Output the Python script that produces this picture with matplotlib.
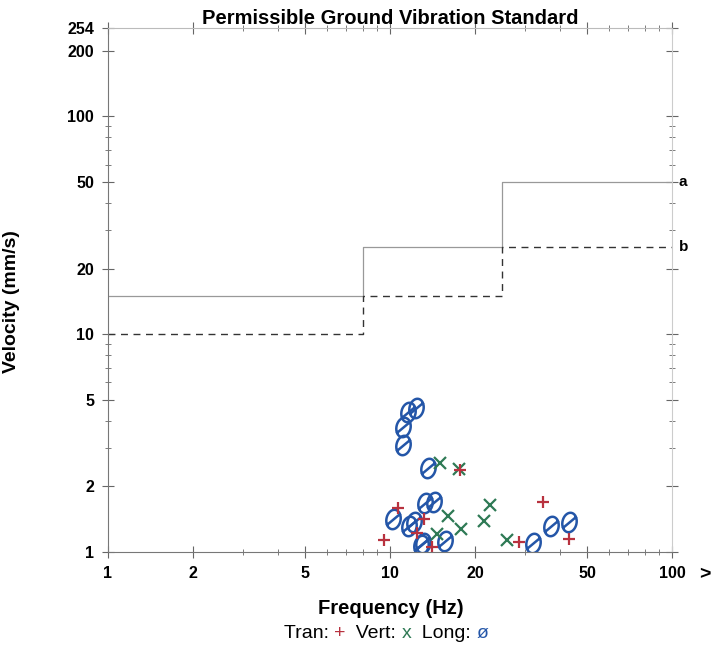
import numpy as np
import matplotlib
matplotlib.use("Agg")
import matplotlib.pyplot as plt
from matplotlib.ticker import FixedLocator, FixedFormatter, NullFormatter
from matplotlib.offsetbox import TextArea, HPacker, AnchoredOffsetbox
from matplotlib.path import Path

plt.rcParams['font.family'] = ['Liberation Sans', 'DejaVu Sans']

# standard limit lines (a solid, b dashed)
std_freq = [1, 8, 8, 25, 25, 100]
std_a = [15, 15, 25, 25, 50, 50]
std_b = [10, 10, 15, 15, 25, 25]

# measured peak particle velocities
tran_f = [10.7, 13.2, 12.5, 9.5, 14.05, 28.7, 34.8, 43.2, 17.7]
tran_v = [1.60, 1.41, 1.22, 1.14, 1.05, 1.11, 1.70, 1.15, 2.38]

vert_f = [15.0, 17.5, 22.6, 16.1, 21.6, 17.85, 14.7, 25.9]
vert_v = [2.56, 2.40, 1.65, 1.47, 1.39, 1.27, 1.21, 1.14]

long_f = [12.37, 11.61, 11.15, 11.15, 13.67, 13.31, 14.32, 10.27, 12.2, 11.71,
          13.13, 12.85, 15.67, 32.2, 37.1, 43.2]
long_v = [4.58, 4.39, 3.74, 3.10, 2.44, 1.67, 1.70, 1.41, 1.38, 1.31,
          1.10, 1.08, 1.12, 1.10, 1.32, 1.37]

x_ticks = [1, 2, 5, 10, 20, 50, 100]
y_ticks = [1, 2, 5, 10, 20, 50, 100, 200, 254]

red = '#b8323f'
green = '#2f7a55'
blue = '#2456a8'

# slashed oval marker, like a handwritten "Ø"
t = np.linspace(0, 2*np.pi, 40)
ex, ey = 0.36*np.cos(t), 0.5*np.sin(t)
ang = np.deg2rad(-12)
ox = ex*np.cos(ang) - ey*np.sin(ang)
oy = ex*np.sin(ang) + ey*np.cos(ang)
verts = list(zip(ox, oy)) + [(-0.36, -0.3), (0.36, 0.3)]
codes = [Path.MOVETO] + [Path.LINETO]*38 + [Path.CLOSEPOLY] + [Path.MOVETO, Path.LINETO]
slash_o = Path(verts, codes)

fig = plt.figure(figsize=(7.19, 6.52), dpi=100)
ax = fig.add_axes([108/719, 1-552/652, (672-108)/719, (552-28)/652])
ax.set_xscale('log')
ax.set_yscale('log')
ax.set_xlim(1, 100)
ax.set_ylim(1, 254)

ax.plot(std_freq, std_a, color='#999999', lw=0.9)
ax.plot(std_freq, std_b, color='#333333', lw=1.0, ls=(0, (5, 4)))
ax.text(1.012, 50, 'a', transform=ax.get_yaxis_transform(), fontsize=11,
        fontweight='bold', va='center', ha='left')
ax.text(1.012, 25, 'b', transform=ax.get_yaxis_transform(), fontsize=11,
        fontweight='bold', va='center', ha='left')

ax.plot(long_f, long_v, ls='none', marker=slash_o, ms=14, mew=1.8,
        mfc='none', mec=blue)
ax.plot(vert_f, vert_v, ls='none', marker='x', ms=8, mew=1.6, color=green)
ax.plot(tran_f, tran_v, ls='none', marker='+', ms=9, mew=1.6, color=red)

ax.xaxis.set_major_locator(FixedLocator(x_ticks))
ax.xaxis.set_major_formatter(FixedFormatter([str(t) for t in x_ticks]))
ax.yaxis.set_major_locator(FixedLocator(y_ticks))
ax.yaxis.set_major_formatter(FixedFormatter([str(t) for t in y_ticks]))
ax.xaxis.set_minor_formatter(NullFormatter())
ax.yaxis.set_minor_formatter(NullFormatter())

for sp in ax.spines.values():
    sp.set_linewidth(0.8)
    sp.set_color('#777777')
ax.spines['top'].set_color('#bbbbbb')
ax.spines['right'].set_color('#cccccc')

ax.tick_params(which='both', direction='inout', colors='#666666',
               top=True, right=True, labelcolor='black')
ax.tick_params(which='major', length=8, width=0.8, labelsize=11.5, pad=6)
ax.tick_params(which='minor', length=5, width=0.6)
for lab in ax.get_xticklabels() + ax.get_yticklabels():
    lab.set_fontweight('bold')

ax.set_title('Permissible Ground Vibration Standard', fontsize=14.5,
             fontweight='bold', pad=3)
ax.set_ylabel('Velocity (mm/s)', fontsize=14, fontweight='bold')
ax.yaxis.set_label_coords(-0.156, 0.477)
fig.text(391/719, 1-608/652, 'Frequency (Hz)', fontsize=14.5,
         fontweight='bold', ha='center', va='center')
fig.text(705/719, 1-575/652, '>', fontsize=14, fontweight='bold',
         ha='center', va='center')

parts = [TextArea('Tran: ', textprops=dict(fontsize=14)),
         TextArea('+', textprops=dict(fontsize=14, color=red)),
         TextArea('  Vert: ', textprops=dict(fontsize=14)),
         TextArea('x', textprops=dict(fontsize=14, color=green)),
         TextArea('  Long: ', textprops=dict(fontsize=14)),
         TextArea('ø', textprops=dict(fontsize=14, color=blue))]
box = HPacker(children=parts, align='baseline', pad=0, sep=0)
anch = AnchoredOffsetbox(loc='center', child=box, frameon=False,
                         bbox_to_anchor=(386/719, 1-633/652),
                         bbox_transform=fig.transFigure, pad=0, borderpad=0)
fig.add_artist(anch)

fig.savefig('out.png', dpi=100, facecolor='white')
